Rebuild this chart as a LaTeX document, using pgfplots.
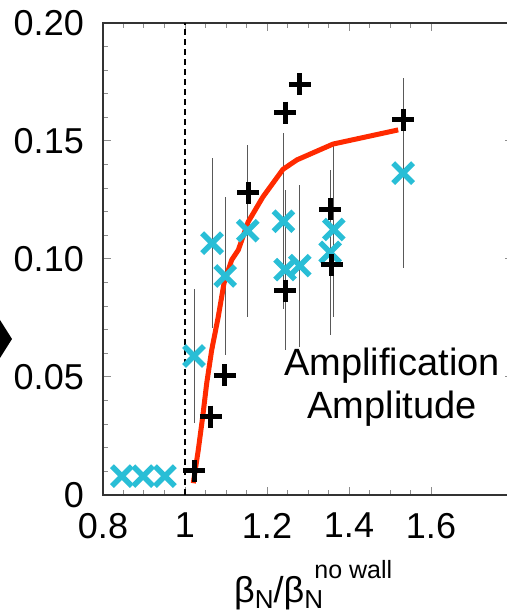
\documentclass[border=0pt]{standalone}
\usepackage{fontspec}
\setmainfont{Liberation Sans}
\usepackage{pgfplots}
\pgfplotsset{compat=1.18}
\usepackage{pgfplotstable}
\definecolor{redline}{RGB}{255,42,0}
\definecolor{cyanx}{RGB}{41,190,214}
\pgfplotstableread{
x y
1.022 0.0103
1.063 0.0332
1.097 0.0508
1.154 0.1280
1.244 0.1620
1.280 0.1740
1.244 0.0866
1.354 0.1210
1.358 0.0975
1.532 0.1590
}\blackdata
\pgfplotstableread{
x y e
0.846 0.0080 0
0.898 0.0080 0
0.951 0.0080 0
1.022 0.0589 0.0284
1.066 0.1067 0.0360
1.098 0.0928 0.0335
1.153 0.1120 0.0364
1.240 0.1160 0.0373
1.244 0.0955 0.0339
1.280 0.0972 0.0343
1.354 0.1028 0.0350
1.363 0.1125 0.0369
1.532 0.1364 0.0403
}\cyandata
\pgfplotstableread{
x y
1.0202 0.0050
1.0324 0.0191
1.0432 0.0332
1.0529 0.0473
1.0651 0.0614
1.0812 0.0756
1.0951 0.0897
1.1139 0.0996
1.1300 0.1038
1.1540 0.1157
1.1900 0.1263
1.2390 0.1380
1.2730 0.1420
1.3610 0.1487
1.5200 0.1547
}\redline
\begin{document}
\begin{tikzpicture}
\begin{axis}[
  scale only axis, width=410pt, height=472pt,
  at={(0pt,0pt)}, anchor=south west,
  xmin=0.8, xmax=1.8, ymin=0, ymax=0.2,
  xtick={0.8,1,1.2,1.4,1.6}, xticklabels={0.8,1,1.2,1.4,1.6},
  minor x tick num=3,
  ytick={0,0.05,0.1,0.15,0.2}, yticklabels={0,0.05,0.10,0.15,0.20},
  minor y tick num=4,
  tick align=inside,
  tick style={black!45, line width=1pt},
  major tick length=8pt, minor tick length=5pt,
  axis line style={line width=2pt, black!80},
  ticklabel style={font=\fontsize{36}{36}\selectfont, inner sep=0pt},
  xticklabel style={yshift=-18pt},
  yticklabel style={xshift=-19pt},
]
\addplot[black, line width=1.5pt, dash pattern=on 6pt off 4pt, forget plot] coordinates {(1,0) (1,0.2)};
\addplot[draw=none, mark=none, forget plot,
  error bars/.cd, y dir=both, y explicit,
  error bar style={draw=black!65, line width=1pt, solid}, error mark=none]
  table[x=x, y=y, y error=e] {\cyandata};
\addplot[redline, line width=5pt, mark=none, line join=round, forget plot] table[x=x,y=y] {\redline};
\addplot[only marks, mark=x, mark size=14pt, cyanx, line width=5.5pt, forget plot] table[x=x,y=y] {\cyandata};
\addplot[only marks, mark=+, mark size=11pt, black, line width=5pt, forget plot] table[x=x,y=y] {\blackdata};
\node[anchor=base, inner sep=0pt, font=\fontsize{38}{38}\selectfont] at (axis cs:1.505,0.0508) {Amplification};
\node[anchor=base, inner sep=0pt, font=\fontsize{38}{38}\selectfont] at (axis cs:1.505,0.0326) {Amplitude};
\end{axis}
\fill (-91pt,156pt) -- (-103pt,175pt) -- (-115pt,156pt) -- (-103pt,137pt) -- cycle;
\node[anchor=base west, inner sep=0pt] at (131pt,-107pt) {{\fontsize{36}{36}\selectfont β}\raisebox{-6pt}{\fontsize{26}{26}\selectfont N}{\fontsize{36}{36}\selectfont /β}\rlap{\raisebox{-6pt}{\fontsize{26}{26}\selectfont N}}\hspace{10pt}\raisebox{24pt}{\fontsize{25}{25}\selectfont no wall}};
\pgfresetboundingbox
\useasboundingbox (-103pt,-120pt) rectangle (403pt,495pt);
\end{tikzpicture}
\end{document}
